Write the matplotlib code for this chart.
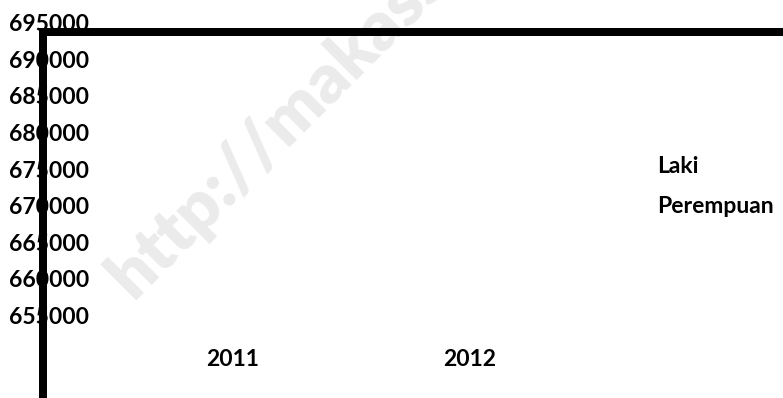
import matplotlib
matplotlib.use('Agg')
import matplotlib.pyplot as plt
from matplotlib.lines import Line2D

plt.rcParams['font.family'] = ['Lato', 'DejaVu Sans']

# Data
years = ['2011', '2012']
series_names = ['Laki', 'Perempuan']
y_ticks = [655000, 660000, 665000, 670000, 675000, 680000, 685000, 690000, 695000]
y_min, y_max = 643737, 698072
frame_top = 693703

fs = 16.5

fig = plt.figure(figsize=(7.83, 3.98), dpi=100)
ax = fig.add_axes((43 / 783, 0, 1 - 43 / 783, 1))
ax.patch.set_alpha(0)
ax.set_ylim(y_min, y_max)
ax.set_xlim(-0.8017, 2.3207)

# Assen zoals in het origineel
for side in ['top', 'right', 'bottom']:
    ax.spines[side].set_visible(False)
ax.spines['left'].set_linewidth(5.76)
ax.spines['left'].set_bounds(y_min, frame_top)
ax.axhline(frame_top, color='black', linewidth=5.76, solid_capstyle='projecting', clip_on=False)

ax.set_yticks(y_ticks)
ax.set_yticklabels([str(v) for v in y_ticks], fontsize=fs, fontweight='bold', ha='left')
ax.tick_params(axis='y', length=0, pad=24.5)

ax.set_xticks(range(len(years)))
ax.set_xticklabels(years, fontsize=fs, fontweight='bold')
ax.tick_params(axis='x', length=0, pad=-35.5)

handles = [Line2D([], [], linestyle='none') for _ in series_names]
ax.legend(handles, series_names, loc='upper left', bbox_to_anchor=(657 / 783, 1 - 156 / 398),
          bbox_transform=fig.transFigure, frameon=False, handlelength=0, handletextpad=0,
          borderpad=0, borderaxespad=0, labelspacing=0.85,
          prop={'size': fs, 'weight': 'bold'})

# Watermerk
fig.text(132 / 783, 1 - 300 / 398, 'http://makassarkota.go.id', rotation=45, rotation_mode='anchor',
         ha='left', va='baseline', fontsize=50, fontweight='heavy', color='#ebebeb', zorder=-1)

fig.savefig('out.png', dpi=100)
